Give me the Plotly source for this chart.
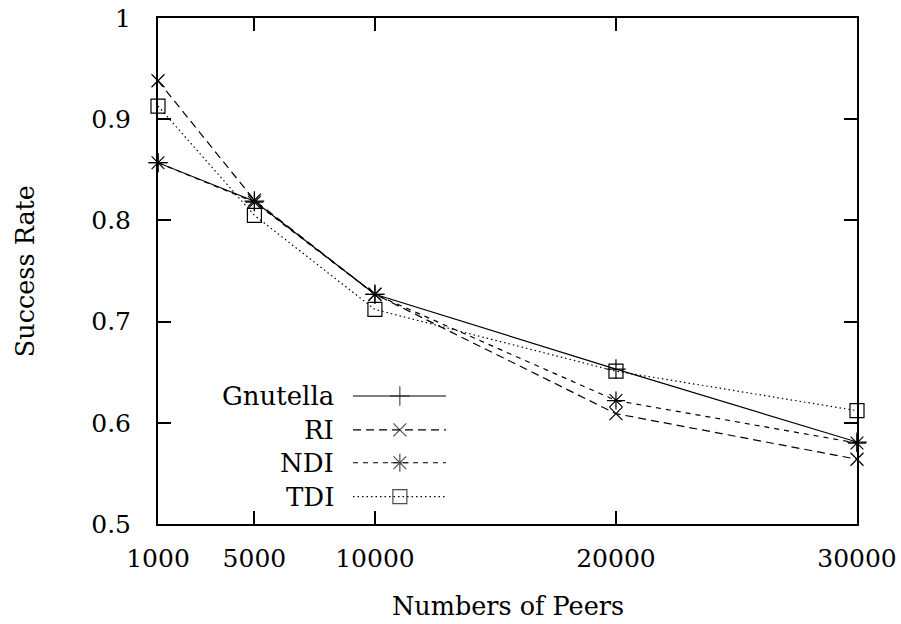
import plotly.graph_objects as go

# ---- data ----
peers = [1000, 5000, 10000, 20000, 30000]
x_ticks = [1000, 5000, 10000, 20000, 30000]
y_ticks = [0.5, 0.6, 0.7, 0.8, 0.9, 1.0]
gnutella = [0.857, 0.819, 0.727, 0.653, 0.581]
ri = [0.938, 0.820, 0.727, 0.609, 0.564]
ndi = [0.857, 0.818, 0.727, 0.622, 0.580]
tdi = [0.913, 0.805, 0.712, 0.651, 0.612]

series_names = ["Gnutella", "RI", "NDI", "TDI"]
series_values = [gnutella, ri, ndi, tdi]
x_title = "Numbers of Peers"
y_title = "Success Rate"

# ---- styles ----
FONT = "DejaVu Serif"
styles = [
    dict(dash="solid", symbol="cross-thin-open", size=14),
    dict(dash="8px,5px", symbol="x-thin-open", size=13),
    dict(dash="5px,5px", symbol="asterisk-open", size=15),
    dict(dash="1.5px,3px", symbol="square-open", size=14),
]

leg_text_x = 0.254
leg_line_x = [0.279, 0.346, 0.412]
leg_rows_y = [0.253, 0.186, 0.121, 0.054]

fig = go.Figure()

for name, vals, st in zip(series_names, series_values, styles):
    fig.add_trace(go.Scatter(
        x=peers, y=vals, mode="lines+markers", name=name,
        line=dict(color="black", width=1.2, dash=st["dash"]),
        marker=dict(symbol=st["symbol"], size=st["size"], color="black",
                    line=dict(color="black", width=1.2)),
        cliponaxis=False, showlegend=False,
    ))

for name, st, ly in zip(series_names, styles, leg_rows_y):
    fig.add_trace(go.Scatter(
        x=leg_line_x, y=[ly, ly, ly], xaxis="x2", yaxis="y2",
        mode="lines+markers",
        line=dict(color="black", width=1.2, dash=st["dash"]),
        marker=dict(symbol=st["symbol"], size=[0, st["size"], 0], color="black",
                    line=dict(color="black", width=1.2)),
        cliponaxis=False, showlegend=False, hoverinfo="skip",
    ))
    fig.add_annotation(
        x=leg_text_x, y=ly, xref="x2", yref="y2", text=name,
        showarrow=False, xanchor="right", yanchor="middle",
        font=dict(family=FONT, size=26, color="black"),
    )

# axis titles
fig.add_annotation(x=0.5, y=-0.162, xref="paper", yref="paper", text=x_title,
                   showarrow=False, xanchor="center", yanchor="middle",
                   font=dict(family=FONT, size=25.5, color="black"))
fig.add_annotation(x=-0.19, y=0.5, xref="paper", yref="paper", text=y_title,
                   showarrow=False, xanchor="center", yanchor="middle", textangle=-90,
                   font=dict(family=FONT, size=25.5, color="black"))

axis_common = dict(
    showline=True, linecolor="black", linewidth=2, mirror="ticks",
    ticks="inside", ticklen=13, tickwidth=2, tickcolor="black",
    showgrid=False, zeroline=False, automargin=False,
    tickfont=dict(family=FONT, size=25, color="black"),
)

fig.update_layout(
    width=901, height=624,
    margin=dict(l=158, r=44, t=18, b=100),
    paper_bgcolor="white", plot_bgcolor="white",
    xaxis=dict(range=[1000, 30000], tickvals=x_ticks,
               ticktext=[str(v) for v in x_ticks],
               ticklabelstandoff=11, **axis_common),
    yaxis=dict(range=[0.5, 1.0], tickvals=y_ticks,
               ticktext=["0.5", "0.6", "0.7", "0.8", "0.9", "1"],
               ticklabelstandoff=20, **axis_common),
    xaxis2=dict(range=[0, 1], overlaying="x", visible=False, fixedrange=True),
    yaxis2=dict(range=[0, 1], overlaying="y", visible=False, fixedrange=True),
    showlegend=False,
)

fig.write_html("out.html")
